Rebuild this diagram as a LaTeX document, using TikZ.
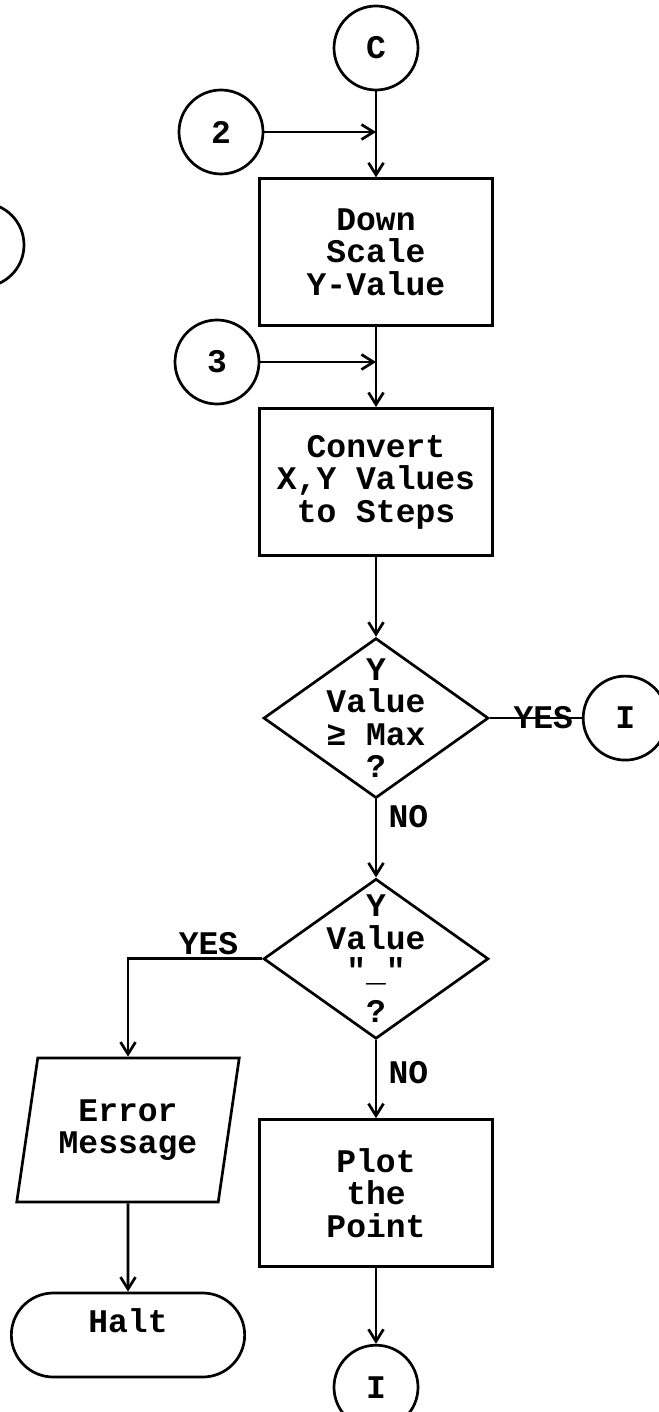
\documentclass[tikz,border=0pt]{standalone}
\usepackage{fontspec}
\newfontfamily\typer{Liberation Mono}
\usepackage{tikz}
\usetikzlibrary{shapes,arrows.meta,positioning}
\tikzstyle{block} = [rectangle, draw, align=center,
    minimum width=233pt, minimum height=147pt]
\tikzstyle{decision} = [diamond, draw, align=center, inner xsep=-10pt,
    inner ysep=-35pt, minimum width=225pt, minimum height=160pt]
\tikzstyle{connector} = [circle, draw, minimum size=84pt, inner sep=0pt]
\tikzstyle{io} = [trapezium, draw, align=center, trapezium left angle=76,
    trapezium right angle=104, trapezium stretches=true,
    minimum width=223pt, minimum height=144pt]
\tikzstyle{terminal} = [rounded rectangle, draw, text depth=28pt,
    minimum width=240pt, minimum height=84pt]
\tikzstyle{line} = [draw, -{Straight Barb[length=12pt,width=15pt]}]

\begin{document}
\begin{tikzpicture}[x=1pt, y=-1pt, node distance=80pt, line width=2.7pt,
    font=\typer\bfseries\fontsize{33}{32.5}\selectfont]
  \useasboundingbox (0,0) rectangle (658,1412);
  \node [connector] (c) at (376,48) {C};
  \node [block, below=86pt of c] (scale) {Down\\Scale\\Y-Value};
  \node [block, below=of scale] (convert) {Convert\\X,Y Values\\to Steps};
  \node [decision, below=of convert] (ymax) {Y\\Value\\≥ Max\\?};
  \node [connector, right=92pt of ymax] (skip) {I};
  \node [decision, below=78pt of ymax] (yneg) {Y\\Value\\"\_"\\[8pt]?};
  \node [block, below=78pt of yneg] (plot) {Plot\\the\\Point};
  \node [connector, below=76pt of plot] (next) {I};

  \node [connector] (two) at (221,132) {2};
  \node [connector] (three) at (217,362) {3};
  \node [connector] (off) at (-18,245) {};
  \node [io] (error) at (128,1130) {Error\\Message};
  \node [terminal] (halt) at (128,1335) {Halt};

  \draw [line] (c) to (scale);
  \draw [line] (two) to (two -| c);
  \draw [line] (scale) to (convert);
  \draw [line] (three) to (three -| scale);
  \draw [line] (convert) to (ymax);
  \draw (ymax) to node [inner sep=0pt, pos=0.58] {YES} (skip);
  \draw [line] (ymax) to node [right, xshift=8pt, pos=0.22] {NO} (yneg);
  \draw [line] (yneg) -| node [above, inner sep=3pt, pos=0.2] {YES} (error);
  \draw [line] (yneg) to node [right, xshift=8pt, pos=0.42] {NO} (plot);
  \draw [line] (error) to (halt);
  \draw [line] (plot) to (next);
\end{tikzpicture}
\end{document}
